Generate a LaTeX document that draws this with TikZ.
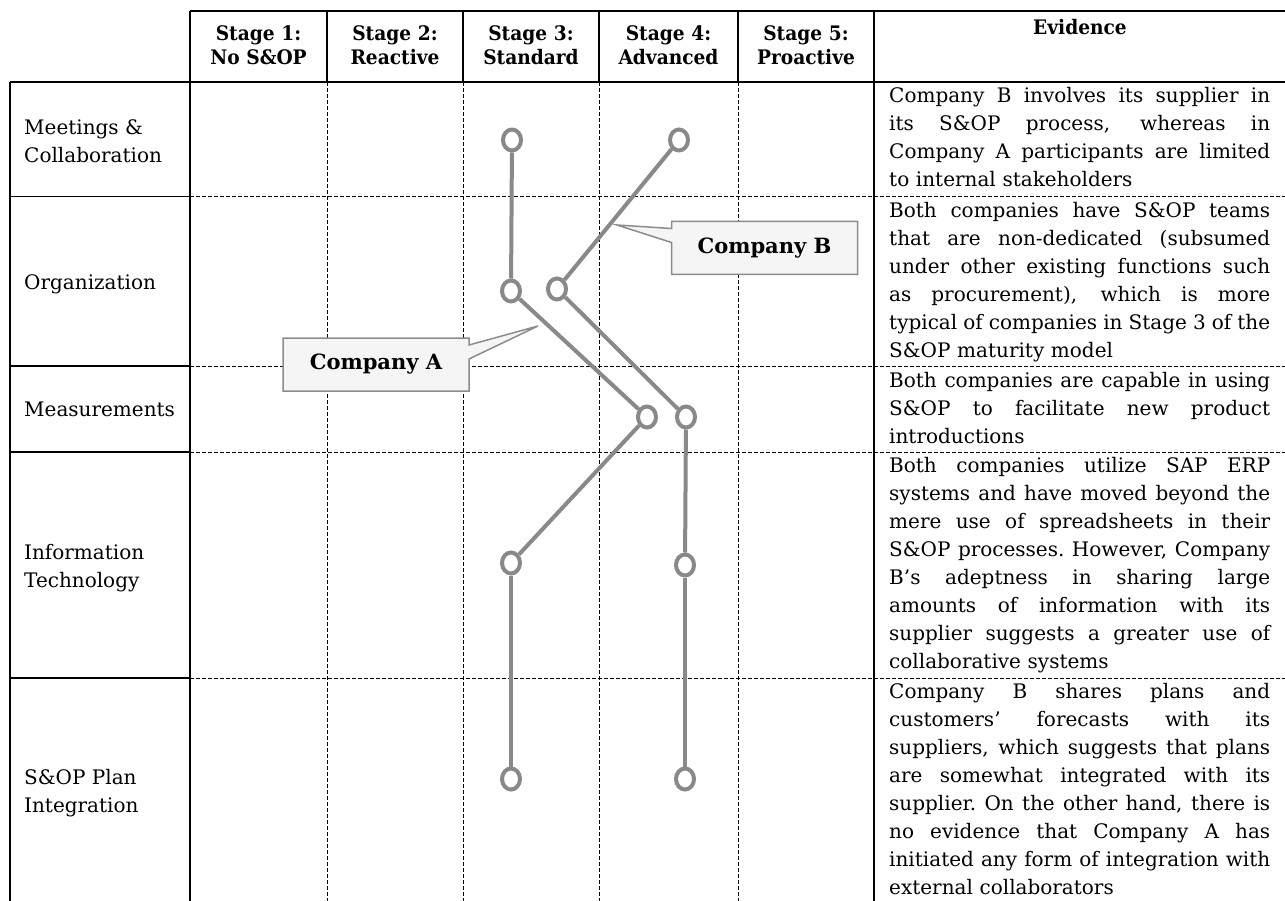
\documentclass[tikz,border=0pt]{standalone}
\usepackage{fontspec}
\setmainfont{DejaVu Serif}
\newfontfamily\hdrfont{DejaVu Serif}[FakeStretch=0.93]
\usetikzlibrary{shapes.geometric,shapes.callouts}
\definecolor{mk}{HTML}{898989}
\definecolor{cofill}{HTML}{F5F5F5}
\definecolor{coline}{HTML}{8C8C8C}
\newcommand\fs{\rule{0pt}{18pt}}
\newcommand\jl[1]{\hbox to 381pt{\spaceskip=6.4pt plus 1fil minus 1.2pt\xspaceskip=6.4pt plus 1fil minus 1.2pt #1}}
\newcommand\lastln[1]{\hbox{#1}}
\begin{document}
\begin{tikzpicture}[x=1pt,y=-1pt,
  solidline/.style={line width=1.8pt},
  dashline/.style={line width=0.9pt, dash pattern=on 4pt off 2pt},
  hdr/.style={anchor=north, inner sep=0pt, text width=134pt, align=center, font=\hdrfont\bfseries\fontsize{20}{24}\selectfont},
  rowlab/.style={anchor=north west, inner sep=0pt, align=left, font=\fontsize{20}{28}\selectfont},
  ev/.style={anchor=north west, inner sep=0pt, text width=381pt, align=left, font=\fontsize{20}{28}\selectfont},
  marker/.style={ellipse, draw=mk, fill=white, line width=4pt, minimum width=18pt, minimum height=21pt, inner sep=0pt},
  link/.style={draw=mk, line width=4pt},
  callbox/.style={rectangle callout, draw=coline, fill=cofill, line width=1.5pt, minimum width=186pt, minimum height=53pt, inner sep=0pt, callout pointer width=14pt, font=\bfseries\fontsize{21}{25}\selectfont}
]
\useasboundingbox (0,0) rectangle (1285,901);
\fill[white] (0,0) rectangle (1285,901);

% ---------- grid ----------
\draw[dashline] (327,82) -- (327,901);
\draw[dashline] (463,82) -- (463,901);
\draw[dashline] (599,82) -- (599,901);
\draw[dashline] (738,82) -- (738,901);
\foreach \y in {196.5,366,452,678} \draw[dashline] (190,\y) -- (1285,\y);
\foreach \y in {196.5,366,452,678} \draw[solidline] (10,\y) -- (190,\y);
\draw[solidline] (190,11) -- (1285,11);
\draw[solidline] (10,82) -- (1285,82);
\foreach \x in {327,463,599,738} \draw[solidline] (\x,11) -- (\x,82);
\draw[solidline] (190,11) -- (190,901);
\draw[solidline] (874,11) -- (874,901);
\draw[solidline] (10,82) -- (10,901);

% ---------- header ----------
\node[hdr] (h1) at (258.5,22) {\fs Stage 1:\\No S\&OP};
\node[hdr] (h2) at (395,22) {\fs Stage 2:\\Reactive};
\node[hdr] (h3) at (531,22) {\fs Stage 3:\\Standard};
\node[hdr] (h4) at (668.5,22) {\fs Stage 4:\\Advanced};
\node[hdr] (h5) at (806,22) {\fs Stage 5:\\Proactive};
\node[hdr, text width=300pt] (h6) at (1080,16) {\fs Evidence};

% ---------- row labels ----------
\node[rowlab] (r1) at (24,116) {\fs Meetings \&\\Collaboration};
\node[rowlab] (r2) at (24,271) {\fs Organization};
\node[rowlab] (r3) at (24,398) {\fs Measurements};
\node[rowlab] (r4) at (24,541) {\fs Information\\Technology};
\node[rowlab] (r5) at (24,766) {\fs S\&OP Plan\\Integration};

% ---------- evidence ----------
\node[ev] (e1) at (889,84) {\jl{\fs Company B involves its supplier in}
\jl{its S\&OP process, whereas in}
\jl{Company A participants are limited}
\lastln{to internal stakeholders}};
\node[ev] (e2) at (889,199) {\jl{\fs Both companies have S\&OP teams}
\jl{that are non-dedicated (subsumed}
\jl{under other existing functions such}
\jl{as procurement), which is more}
\jl{typical of companies in Stage 3 of the}
\lastln{S\&OP maturity model}};
\node[ev] (e3) at (889,369) {\jl{\fs Both companies are capable in using}
\jl{S\&OP to facilitate new product}
\lastln{introductions}};
\node[ev] (e4) at (889,454) {\jl{\fs Both companies utilize SAP ERP}
\jl{systems and have moved beyond the}
\jl{mere use of spreadsheets in their}
\jl{S\&OP processes. However, Company}
\jl{B’s adeptness in sharing large}
\jl{amounts of information with its}
\jl{supplier suggests a greater use of}
\lastln{collaborative systems}};
\node[ev] (e5) at (889,680) {\jl{\fs Company B shares plans and}
\jl{customers’ forecasts with its}
\jl{suppliers, which suggests that plans}
\jl{are somewhat integrated with its}
\jl{supplier. On the other hand, there is}
\jl{no evidence that Company A has}
\jl{initiated any form of integration with}
\lastln{external collaborators}};

% ---------- markers ----------
\node[marker] (a1) at (512,140) {};
\node[marker] (a2) at (511,291) {};
\node[marker] (a3) at (647,417) {};
\node[marker] (a4) at (511,563) {};
\node[marker] (a5) at (511,779) {};
\node[marker] (b1) at (679,140) {};
\node[marker] (b2) at (557,289) {};
\node[marker] (b3) at (686,417) {};
\node[marker] (b4) at (685,565) {};
\node[marker] (b5) at (685,779) {};
\draw[link] (a1) -- (a2);
\draw[link] (a2) -- (a3);
\draw[link] (a3) -- (a4);
\draw[link] (a4) -- (a5);
\draw[link] (b1) -- (b2);
\draw[link] (b2) -- (b3);
\draw[link] (b3) -- (b4);
\draw[link] (b4) -- (b5);

% ---------- callouts ----------
\coordinate (tipA) at (538,326);
\coordinate (tipB) at (617,225);
\node[callbox, callout absolute pointer=(tipA)] (coA) at (376,364.5) {Company A};
\node[callbox, callout absolute pointer=(tipB)] (coB) at (764.5,248) {Company B};
\end{tikzpicture}
\end{document}
